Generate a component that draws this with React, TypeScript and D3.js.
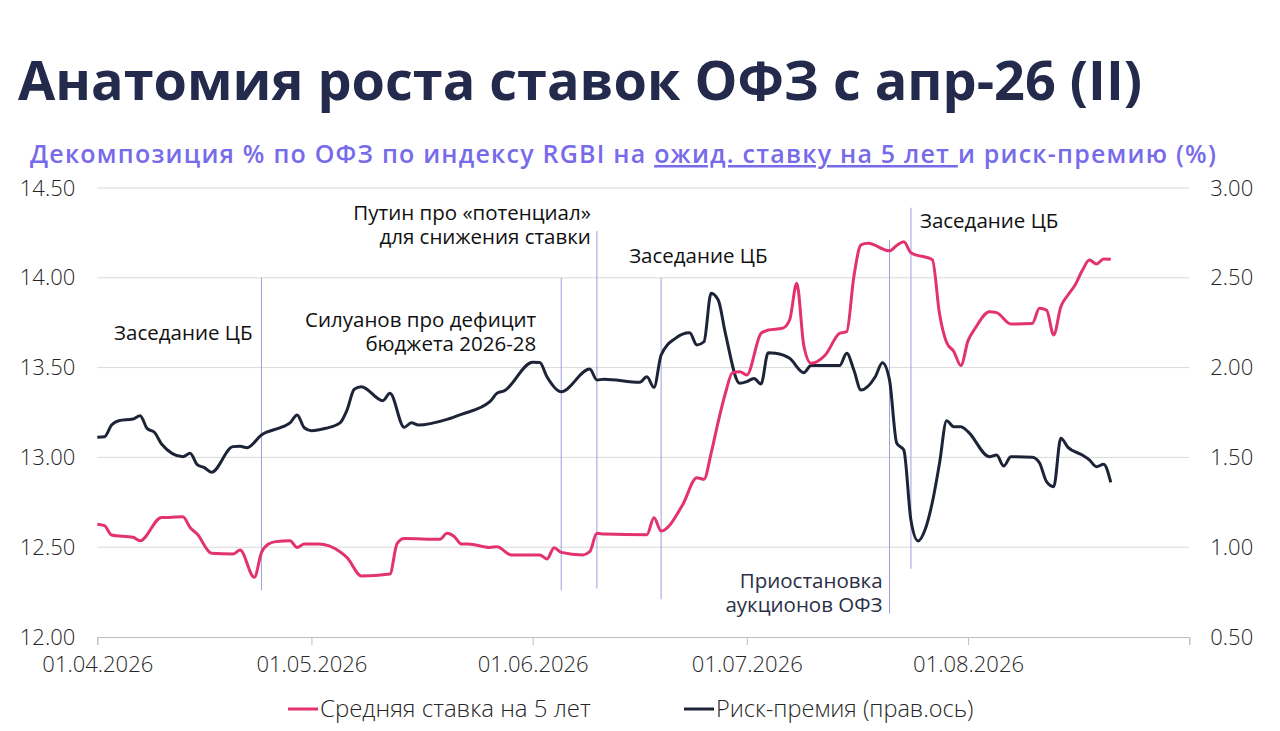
import * as d3 from "d3";
import { useEffect, useRef } from "react";

// Средняя ставка на 5 лет (левая ось, %)
const rateDates = [
    "2026-04-01", "2026-04-02", "2026-04-03", "2026-04-06", "2026-04-07", "2026-04-10",
    "2026-04-11", "2026-04-13", "2026-04-14", "2026-04-15", "2026-04-17", "2026-04-20",
    "2026-04-21", "2026-04-23", "2026-04-24", "2026-04-25", "2026-04-26", "2026-04-28",
    "2026-04-29", "2026-04-30", "2026-05-02", "2026-05-05", "2026-05-06", "2026-05-08",
    "2026-05-12", "2026-05-13", "2026-05-14", "2026-05-19", "2026-05-20", "2026-05-21",
    "2026-05-22", "2026-05-23", "2026-05-26", "2026-05-27", "2026-05-29", "2026-06-02",
    "2026-06-03", "2026-06-04", "2026-06-05", "2026-06-08", "2026-06-09", "2026-06-10",
    "2026-06-11", "2026-06-17", "2026-06-18", "2026-06-19", "2026-06-22", "2026-06-24",
    "2026-06-25", "2026-06-26", "2026-06-27", "2026-06-28", "2026-06-29", "2026-06-30",
    "2026-07-01", "2026-07-03", "2026-07-04", "2026-07-06", "2026-07-07", "2026-07-08",
    "2026-07-09", "2026-07-10", "2026-07-12", "2026-07-14", "2026-07-15", "2026-07-16",
    "2026-07-17", "2026-07-18", "2026-07-21", "2026-07-22", "2026-07-23", "2026-07-24",
    "2026-07-27", "2026-07-28", "2026-07-29", "2026-07-30", "2026-07-31", "2026-08-01",
    "2026-08-02", "2026-08-04", "2026-08-05", "2026-08-07", "2026-08-10", "2026-08-11",
    "2026-08-12", "2026-08-13", "2026-08-14", "2026-08-15", "2026-08-16", "2026-08-17",
    "2026-08-18", "2026-08-19", "2026-08-20", "2026-08-21",
];
const rateValues = [
    12.628, 12.62, 12.568, 12.555, 12.536, 12.666,
    12.666, 12.67, 12.61, 12.573, 12.466, 12.462,
    12.484, 12.332, 12.47, 12.518, 12.531, 12.536,
    12.499, 12.518, 12.518, 12.475, 12.442, 12.34,
    12.351, 12.52, 12.548, 12.544, 12.577, 12.56,
    12.518, 12.518, 12.499, 12.503, 12.457, 12.457,
    12.434, 12.497, 12.471, 12.457, 12.475, 12.577,
    12.573, 12.57, 12.664, 12.59, 12.735, 12.887,
    12.878, 13.023, 13.199, 13.357, 13.472, 13.477,
    13.459, 13.691, 13.709, 13.719, 13.765, 13.969,
    13.62, 13.524, 13.57, 13.691, 13.7, 14.006,
    14.183, 14.192, 14.15, 14.18, 14.201, 14.14,
    14.1, 13.8, 13.64, 13.59, 13.511, 13.65,
    13.719, 13.811, 13.806, 13.743, 13.746, 13.83,
    13.82, 13.682, 13.839, 13.904, 13.96, 14.04,
    14.099, 14.077, 14.105, 14.103,
];

// Риск-премия (правая ось)
const premDates = [
    "2026-04-01", "2026-04-02", "2026-04-03", "2026-04-04", "2026-04-06", "2026-04-07",
    "2026-04-08", "2026-04-09", "2026-04-10", "2026-04-13", "2026-04-14", "2026-04-15",
    "2026-04-16", "2026-04-17", "2026-04-20", "2026-04-21", "2026-04-22", "2026-04-24",
    "2026-04-27", "2026-04-28", "2026-04-29", "2026-04-30", "2026-05-01", "2026-05-03",
    "2026-05-05", "2026-05-06", "2026-05-07", "2026-05-08", "2026-05-11", "2026-05-12",
    "2026-05-14", "2026-05-15", "2026-05-16", "2026-05-20", "2026-05-22", "2026-05-26",
    "2026-05-27", "2026-05-28", "2026-06-01", "2026-06-02", "2026-06-03", "2026-06-05",
    "2026-06-09", "2026-06-10", "2026-06-11", "2026-06-16", "2026-06-17", "2026-06-18",
    "2026-06-19", "2026-06-21", "2026-06-23", "2026-06-24", "2026-06-25", "2026-06-26",
    "2026-06-27", "2026-06-28", "2026-06-30", "2026-07-01", "2026-07-02", "2026-07-03",
    "2026-07-04", "2026-07-05", "2026-07-07", "2026-07-09", "2026-07-10", "2026-07-14",
    "2026-07-15", "2026-07-16", "2026-07-17", "2026-07-19", "2026-07-20", "2026-07-21",
    "2026-07-22", "2026-07-23", "2026-07-24", "2026-07-25", "2026-07-26", "2026-07-27",
    "2026-07-28", "2026-07-29", "2026-07-30", "2026-07-31", "2026-08-01", "2026-08-04",
    "2026-08-05", "2026-08-06", "2026-08-07", "2026-08-10", "2026-08-11", "2026-08-12",
    "2026-08-13", "2026-08-14", "2026-08-15", "2026-08-17", "2026-08-18", "2026-08-19",
    "2026-08-20", "2026-08-21",
];
const premValues = [
    1.612, 1.615, 1.68, 1.704, 1.714, 1.732,
    1.66, 1.64, 1.575, 1.504, 1.523, 1.46,
    1.443, 1.417, 1.56, 1.562, 1.554, 1.625,
    1.671, 1.692, 1.736, 1.665, 1.649, 1.662,
    1.692, 1.765, 1.88, 1.894, 1.816, 1.857,
    1.668, 1.693, 1.68, 1.712, 1.74, 1.81,
    1.857, 1.87, 2.03, 2.028, 1.949, 1.866,
    1.992, 1.931, 1.935, 1.918, 1.949, 1.89,
    2.07, 2.163, 2.194, 2.126, 2.144, 2.414,
    2.376, 2.191, 1.913, 1.922, 1.94, 1.909,
    2.083, 2.08, 2.052, 1.972, 2.011, 2.011,
    2.08, 1.987, 1.875, 1.949, 2.027, 1.93,
    1.58, 1.541, 1.15, 1.035, 1.1, 1.25,
    1.467, 1.704, 1.671, 1.671, 1.643, 1.504,
    1.513, 1.452, 1.504, 1.501, 1.47, 1.365,
    1.337, 1.606, 1.556, 1.513, 1.486, 1.448,
    1.462, 1.361,
];

const leftTicks = [12, 12.5, 13, 13.5, 14, 14.5];
const rightTicks = [0.5, 1, 1.5, 2, 2.5, 3];

// события (вертикальные линии)
const eventDates = ["2026-04-24", "2026-06-05", "2026-06-10", "2026-06-19", "2026-07-21", "2026-07-24"];
const eventLabels = [
    ["Заседание ЦБ"],
    ["Силуанов про дефицит", "бюджета 2026-28"],
    ["Путин про «потенциал»", "для снижения ставки"],
    ["Заседание ЦБ"],
    ["Приостановка", "аукционов ОФЗ"],
    ["Заседание ЦБ"],
];

// разметка подписей и длины линий (в единицах левой оси)
const eventLayout = [
    { top: 14.0, bottom: 12.26, dx: -9, y: 340, anchor: "end", color: "#111" },
    { top: 14.0, bottom: 12.26, dx: -25, y: 327, anchor: "end", color: "#111" },
    { top: 14.26, bottom: 12.27, dx: -6, y: 220, anchor: "end", color: "#111" },
    { top: 14.0, bottom: 12.21, dx: -32, y: 263, anchor: "start", color: "#111" },
    { top: 14.21, bottom: 12.13, dx: -7, y: 588, anchor: "end", color: "#2a2f45" },
    { top: 14.39, bottom: 12.38, dx: 9, y: 228, anchor: "start", color: "#111" },
];

const FONT = "'Open Sans', 'DejaVu Sans', sans-serif";
const PINK = "#e2336f";
const NAVY = "#1e2438";

export default function App() {
    const svgRef = useRef<SVGSVGElement | null>(null);

    useEffect(() => {
        if (!svgRef.current) return;
        const svg = d3.select(svgRef.current);
        svg.selectAll("*").remove();

        const W = 1280;
        const H = 731;
        const left = 97.3;
        const right = 1189.3;
        const top = 188;
        const bottom = 637;

        svg.append("rect").attr("width", W).attr("height", H).attr("fill", "#fff");

        const parse = d3.timeParse("%Y-%m-%d");
        const x = d3
            .scaleTime()
            .domain([parse("2026-04-01")!, parse("2026-09-01")!])
            .range([left, right]);
        const yL = d3.scaleLinear().domain([12, 14.5]).range([bottom, top]);
        const yR = d3.scaleLinear().domain([0.5, 3]).range([bottom, top]);

        // title
        svg.append("text")
            .attr("x", 18)
            .attr("y", 100)
            .attr("font-family", FONT)
            .attr("font-size", 54)
            .attr("font-weight", 700)
            .attr("fill", "#232a4c")
            .text("Анатомия роста ставок ОФЗ с апр-26 (II)");

        const sub = svg.append("text")
            .attr("x", 30)
            .attr("y", 163)
            .attr("font-family", FONT)
            .attr("font-size", 25)
            .attr("font-weight", 600)
            .attr("letter-spacing", 1.22)
            .attr("fill", "#776bea");
        sub.append("tspan").text("Декомпозиция % по ОФЗ по индексу RGBI на ");
        sub.append("tspan").attr("text-decoration", "underline").text("ожид. ставку на 5 лет ");
        sub.append("tspan").text("и риск-премию (%)");

        // grid
        svg.append("g")
            .selectAll("line")
            .data(leftTicks.slice(1))
            .join("line")
            .attr("x1", left)
            .attr("x2", right)
            .attr("y1", (d) => yL(d))
            .attr("y2", (d) => yL(d))
            .attr("stroke", "#d9d9d9")
            .attr("stroke-width", 1);

        // x axis
        const months = d3.timeMonth.range(parse("2026-04-01")!, parse("2026-09-02")!);
        const fmt = d3.timeFormat("%d.%m.%Y");
        const xAxis = svg.append("g")
            .attr("transform", `translate(0,${bottom})`)
            .call(
                d3.axisBottom(x)
                    .tickValues(months)
                    .tickSize(8)
                    .tickPadding(11)
                    .tickFormat((d, i) => (i < months.length - 1 ? fmt(d as Date) : ""))
            );
        xAxis.select(".domain").attr("stroke", "#bfbfbf");
        xAxis.selectAll(".tick line").attr("stroke", "#bfbfbf");
        xAxis.selectAll("text")
            .attr("font-family", FONT)
            .attr("font-size", 22)
            .attr("font-weight", 300)
            .attr("fill", "#262626");

        // left axis
        const yAxisL = svg.append("g")
            .attr("transform", `translate(${left},0)`)
            .call(d3.axisLeft(yL).tickValues(leftTicks).tickSize(0).tickPadding(22).tickFormat(d3.format(".2f")));
        yAxisL.select(".domain").remove();
        yAxisL.selectAll("text")
            .attr("font-family", FONT)
            .attr("font-size", 22)
            .attr("font-weight", 300)
            .attr("fill", "#262626");

        // right axis
        const yAxisR = svg.append("g")
            .attr("transform", `translate(${right},0)`)
            .call(d3.axisRight(yR).tickValues(rightTicks).tickSize(0).tickPadding(21).tickFormat(d3.format(".2f")));
        yAxisR.select(".domain").remove();
        yAxisR.selectAll("text")
            .attr("font-family", FONT)
            .attr("font-size", 22)
            .attr("font-weight", 300)
            .attr("fill", "#262626");

        // event lines
        const ev = svg.append("g");
        eventDates.forEach((ds, i) => {
            const ex = x(parse(ds)!);
            const L = eventLayout[i];
            ev.append("line")
                .attr("x1", ex)
                .attr("x2", ex)
                .attr("y1", yL(L.top))
                .attr("y2", yL(L.bottom))
                .attr("stroke", "#a39ddf")
                .attr("stroke-width", 1);
            const t = ev.append("text")
                .attr("font-family", FONT)
                .attr("font-size", 20.5)
                .attr("font-weight", 500)
                .attr("fill", L.color)
                .attr("text-anchor", L.anchor);
            eventLabels[i].forEach((s, j) => {
                t.append("tspan").attr("x", ex + L.dx).attr("y", L.y + j * 24).text(s);
            });
        });

        // lines
        const rateData = rateDates.map((d, i) => ({ date: parse(d)!, v: rateValues[i] }));
        const premData = premDates.map((d, i) => ({ date: parse(d)!, v: premValues[i] }));

        const lineL = d3
            .line<{ date: Date; v: number }>()
            .x((d) => x(d.date))
            .y((d) => yL(d.v))
            .curve(d3.curveMonotoneX);
        const lineR = d3
            .line<{ date: Date; v: number }>()
            .x((d) => x(d.date))
            .y((d) => yR(d.v))
            .curve(d3.curveMonotoneX);

        svg.append("path")
            .datum(premData)
            .attr("fill", "none")
            .attr("stroke", NAVY)
            .attr("stroke-width", 3)
            .attr("stroke-linejoin", "round")
            .attr("d", lineR);

        svg.append("path")
            .datum(rateData)
            .attr("fill", "none")
            .attr("stroke", PINK)
            .attr("stroke-width", 3)
            .attr("stroke-linejoin", "round")
            .attr("d", lineL);

        // legend
        const legend = [
            { label: "Средняя ставка на 5 лет", color: PINK, x: 288, size: 24 },
            { label: "Риск-премия (прав.ось)", color: NAVY, x: 684, size: 23.5 },
        ];
        const lg = svg.append("g");
        legend.forEach((it) => {
            lg.append("line")
                .attr("x1", it.x)
                .attr("x2", it.x + 30)
                .attr("y1", 709)
                .attr("y2", 709)
                .attr("stroke", it.color)
                .attr("stroke-width", 3);
            lg.append("text")
                .attr("x", it.x + 32)
                .attr("y", 717)
                .attr("font-family", FONT)
                .attr("font-size", it.size)
                .attr("font-weight", 300)
                .attr("fill", "#262626")
                .text(it.label);
        });
    }, []);

    return (
        <svg
            ref={svgRef}
            width={1280}
            height={731}
            style={{ position: "absolute", left: 0, top: 0, display: "block" }}
        />
    );
}
